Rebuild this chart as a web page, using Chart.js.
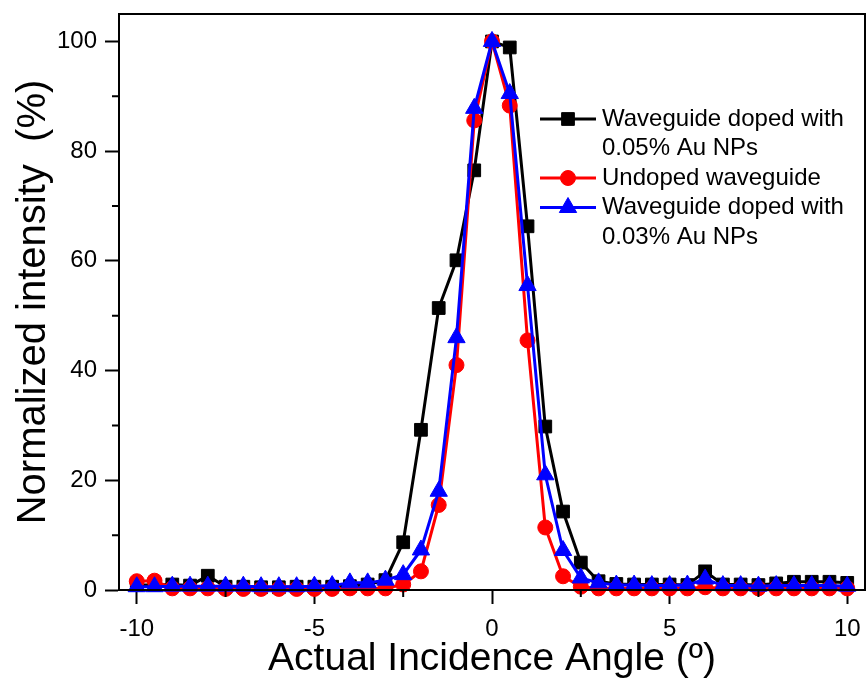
<!DOCTYPE html>
<html>
<head>
<meta charset="utf-8">
<script src="https://cdn.jsdelivr.net/npm/chart.js@4/dist/chart.umd.min.js"></script>
<style>
  html, body { margin: 0; padding: 0; background: #fff; overflow: hidden; }
  /* a bit wider than the window: the last tick label reserves room on the right */
  #wrap { width: 876px; height: 685px; position: relative; }
  canvas { display: block; }
</style>
</head>
<body>
<div id="wrap"><canvas id="chart"></canvas></div>
<script>
// incidence angle (deg)
const angles = [-10, -9.5, -9, -8.5, -8, -7.5, -7, -6.5, -6, -5.5, -5, -4.5, -4, -3.5, -3, -2.5, -2, -1.5, -1, -0.5,
  0, 0.5, 1, 1.5, 2, 2.5, 3, 3.5, 4, 4.5, 5, 5.5, 6, 6.5, 7, 7.5, 8, 8.5, 9, 9.5, 10];

// normalized intensity (%)
const doped005 = [0.9, 0.9, 1.0, 0.8, 2.6, 0.6, 0.6, 0.5, 0.5, 0.6, 0.6, 0.6, 0.7, 1.0, 1.8, 8.7, 29.2, 51.4, 60.1, 76.5,
  100, 98.9, 66.3, 29.8, 14.3, 5.0, 1.6, 1.1, 1.0, 1.0, 1.0, 0.9, 3.4, 1.0, 1.0, 0.9, 1.2, 1.5, 1.5, 1.5, 1.3];
const undoped = [1.6, 1.7, 0.3, 0.3, 0.3, 0.2, 0.2, 0.2, 0.2, 0.2, 0.2, 0.2, 0.3, 0.3, 0.3, 1.0, 3.4, 15.5, 41, 85.6,
  100, 88.3, 45.5, 11.4, 2.5, 0.6, 0.3, 0.3, 0.3, 0.3, 0.3, 0.3, 0.5, 0.3, 0.3, 0.3, 0.3, 0.3, 0.3, 0.3, 0.3];
const doped003 = [0.6, 0.6, 0.7, 0.7, 0.7, 0.7, 0.7, 0.6, 0.6, 0.6, 0.7, 0.8, 1.3, 1.3, 1.8, 2.8, 7.3, 18, 46, 87.8,
  100, 90.5, 55.5, 21, 7.2, 2.2, 1.3, 0.9, 0.9, 0.8, 0.8, 0.9, 2.0, 0.8, 0.8, 0.7, 0.8, 0.8, 0.8, 0.8, 0.7];

const xTicks = [-10, -5, 0, 5, 10];
const xMinorTicks = [-7.5, -2.5, 2.5, 7.5];
const yTicks = [0, 20, 40, 60, 80, 100];
const yMinorTicks = [10, 30, 50, 70, 90];

const legendLines = [
  ['Waveguide doped with', '0.05% Au NPs'],
  ['Undoped waveguide'],
  ['Waveguide doped with', '0.03% Au NPs']
];

const FONT = "Arial, 'Liberation Sans', sans-serif";

function makeSet(lines, values, color, style, radius, order) {
  return {
    label: lines.join(' '),
    legendLines: lines,
    data: angles.map((a, i) => ({ x: a, y: values[i] })),
    borderColor: color,
    backgroundColor: color,
    borderWidth: 3,
    pointStyle: style,
    pointRadius: radius,
    pointBorderWidth: 1,
    pointBackgroundColor: color,
    pointBorderColor: color,
    order: order,
    clip: false
  };
}

function noPad(s) {
  s.paddingTop = 0;
  s.paddingBottom = 0;
  s.paddingLeft = 0;
  s.paddingRight = 0;
}

// frame + minor ticks
const frame = {
  id: 'frame',
  afterDraw(chart) {
    const { ctx, chartArea: a, scales } = chart;
    ctx.save();
    ctx.strokeStyle = '#000';
    ctx.lineWidth = 2;
    ctx.strokeRect(a.left, a.top, a.right - a.left, a.bottom - a.top);
    ctx.beginPath();
    xMinorTicks.forEach(v => {
      const px = scales.x.getPixelForValue(v);
      ctx.moveTo(px, a.bottom);
      ctx.lineTo(px, a.bottom + 7);
    });
    yMinorTicks.forEach(v => {
      const py = scales.y.getPixelForValue(v);
      ctx.moveTo(a.left - 7, py);
      ctx.lineTo(a.left, py);
    });
    ctx.stroke();
    ctx.restore();
  }
};

// legend with wrapped labels
const legendBox = {
  id: 'legendBox',
  afterDraw(chart) {
    const { ctx, chartArea: a } = chart;
    const x0 = a.left + 421;
    const lineH = 29.5;
    let y = a.top + 105;
    ctx.save();
    ctx.font = '24px ' + FONT;
    ctx.textBaseline = 'middle';
    ctx.textAlign = 'left';
    chart.data.datasets.forEach(ds => {
      ctx.strokeStyle = ds.borderColor;
      ctx.fillStyle = ds.backgroundColor;
      ctx.lineWidth = 3;
      ctx.beginPath();
      ctx.moveTo(x0, y);
      ctx.lineTo(x0 + 56, y);
      ctx.stroke();
      ctx.lineWidth = 1;
      Chart.helpers.drawPoint(ctx, { pointStyle: ds.pointStyle, radius: ds.pointRadius, rotation: 0, borderWidth: 1 }, x0 + 28, y);
      ctx.fillStyle = '#000';
      ds.legendLines.forEach(t => {
        ctx.fillText(t, x0 + 62, y);
        y += lineH;
      });
    });
    ctx.restore();
  }
};

new Chart(document.getElementById('chart'), {
  type: 'line',
  data: {
    datasets: [
      makeSet(legendLines[0], doped005, '#000000', 'rect', 9, 2),
      makeSet(legendLines[1], undoped, '#ff0000', 'circle', 7.5, 1),
      makeSet(legendLines[2], doped003, '#0000ff', 'triangle', 10, 0)
    ]
  },
  options: {
    responsive: true,
    maintainAspectRatio: false,
    animation: false,
    layout: { padding: { top: 14, right: 2, left: 0, bottom: 0 } },
    plugins: { legend: { display: false }, tooltip: { enabled: false } },
    scales: {
      x: {
        type: 'linear',
        min: -10.5,
        max: 10.5,
        afterBuildTicks: s => { s.ticks = xTicks.map(v => ({ value: v })); },
        afterFit: s => { s.height = 95; noPad(s); },
        ticks: { font: { family: FONT, size: 24 }, color: '#000', padding: 11, maxRotation: 0, callback: v => String(v) },
        grid: { drawOnChartArea: false, tickLength: 14, tickWidth: 2, tickColor: '#000' },
        border: { color: '#000', width: 2 },
        title: { display: true, text: 'Actual Incidence Angle (º)', font: { family: FONT, size: 39 }, color: '#000', padding: { top: 0, bottom: 2 } }
      },
      y: {
        min: 0,
        max: 105,
        afterBuildTicks: s => { s.ticks = yTicks.map(v => ({ value: v })); },
        afterFit: s => { s.width = 119; noPad(s); },
        ticks: { font: { family: FONT, size: 24 }, color: '#000', padding: 8, callback: v => String(v) },
        grid: { drawOnChartArea: false, tickLength: 14, tickWidth: 2, tickColor: '#000' },
        border: { color: '#000', width: 2 },
        title: { display: true, text: 'Normalized intensity  (%)', font: { family: FONT, size: 40 }, color: '#000', padding: { top: 10, bottom: 0 } }
      }
    }
  },
  plugins: [frame, legendBox]
});
</script>
</body>
</html>
